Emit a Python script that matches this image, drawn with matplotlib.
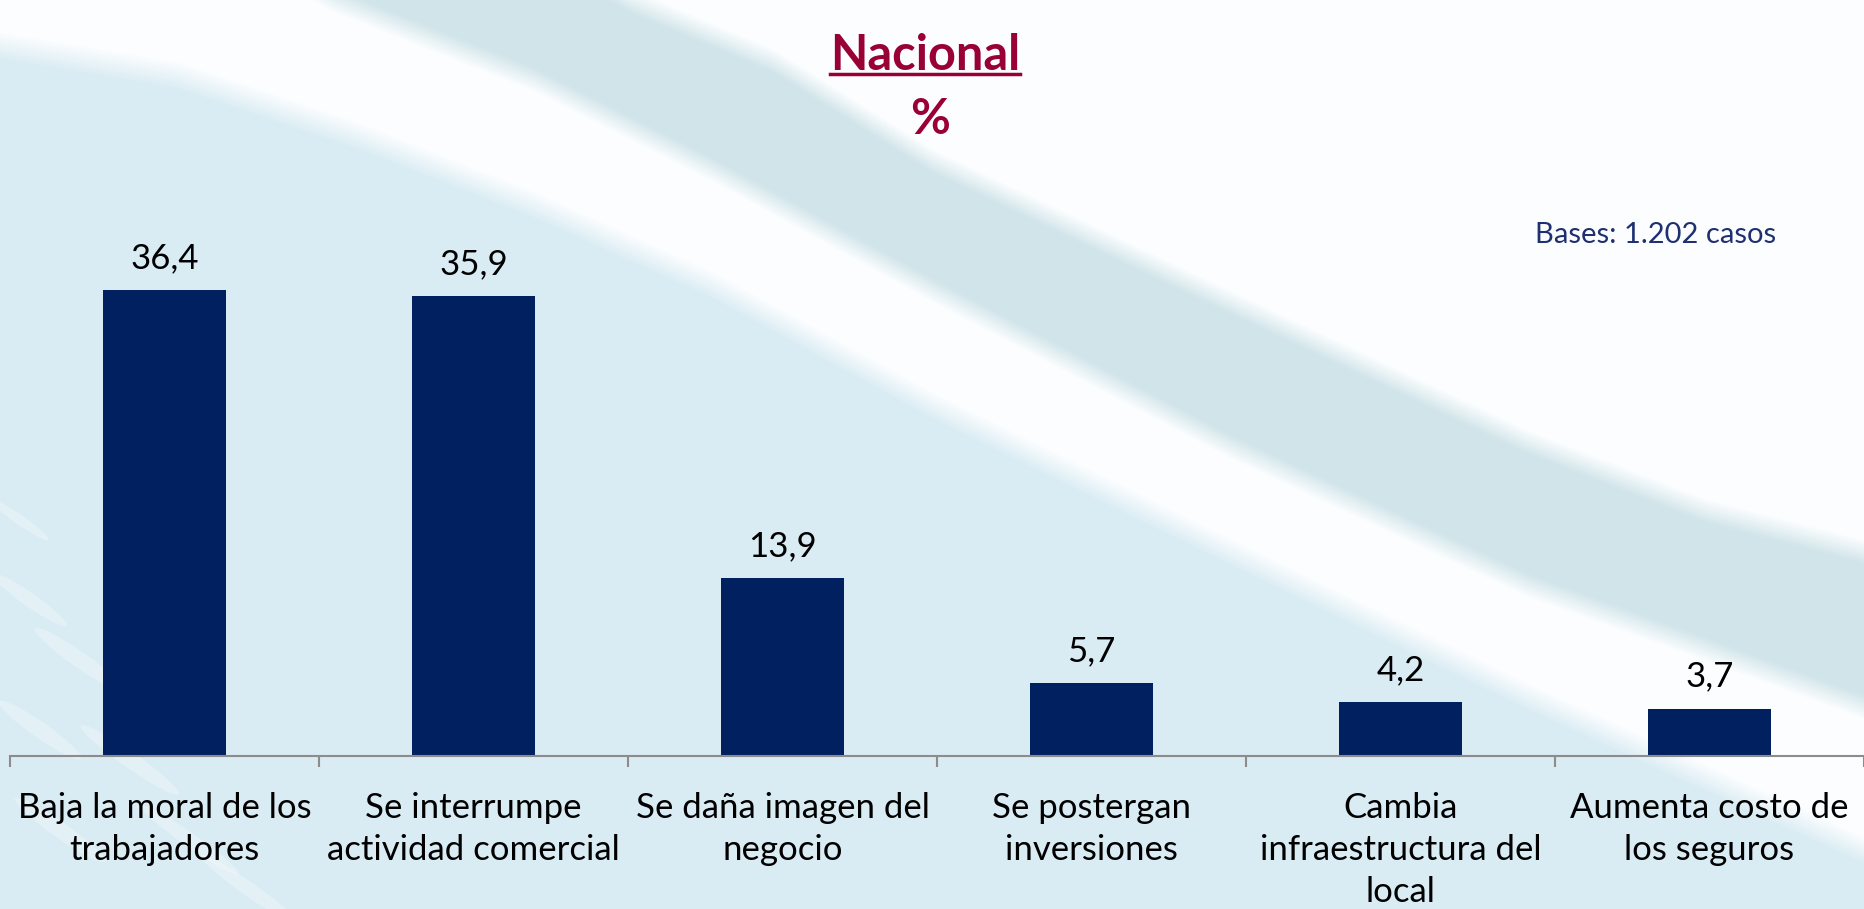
import numpy as np
import matplotlib.pyplot as plt
from matplotlib.lines import Line2D
from matplotlib.patches import Ellipse

# Datos
categorias = ['Baja la moral de los\ntrabajadores',
              'Se interrumpe\nactividad comercial',
              'Se daña imagen del\nnegocio',
              'Se postergan\ninversiones',
              'Cambia\ninfraestructura del\nlocal',
              'Aumenta costo de\nlos seguros']
valores = [36.4, 35.9, 13.9, 5.7, 4.2, 3.7]
titulo = 'Nacional'
subtitulo = '%'
nota_base = 'Bases: 1.202 casos'

W, H = 1864, 909
plt.rcParams['font.family'] = ['Lato', 'DejaVu Sans']

fig = plt.figure(figsize=(W / 100, H / 100), dpi=100)

# Fondo decorativo: zona celeste abajo a la izquierda y una franja gris-azulada curva
xs = np.arange(W, dtype=float)
ys = np.arange(H, dtype=float)[:, None]

borde_celeste = np.interp(xs, [0, 178, 357, 535, 713, 932, 1229, 1527, 1864],
                          [45, 75, 135, 205, 285, 405, 551, 696, 850])
franja_sup = np.interp(xs, [450, 630, 773, 932, 1229, 1527, 1705, 1864],
                       [-100, 0, 60, 160, 301, 441, 510, 551])
franja_inf = np.interp(xs, [150, 333, 535, 713, 932, 1229, 1527, 1705, 1864],
                       [-100, 0, 80, 170, 290, 446, 585, 649, 707])


def suave(borde, ancho):
    return np.clip((ys - borde) / ancho + 0.5, 0, 1)


celeste = suave(borde_celeste, 30)[..., None]
gris = (suave(franja_sup, 25) * (1 - suave(franja_inf, 25)))[..., None]

blanco = np.array([0.992, 0.996, 1.0])
c_celeste = np.array([0.851, 0.925, 0.953])
c_gris = np.array([0.820, 0.898, 0.918])

img = blanco * (1 - celeste) + c_celeste * celeste
img = img * (1 - gris) + c_gris * gris

ax_bg = fig.add_axes([0, 0, 1, 1])
ax_bg.imshow(img, extent=[0, W, H, 0], aspect='auto', interpolation='bilinear')
ax_bg.set_xlim(0, W)
ax_bg.set_ylim(H, 0)
ax_bg.set_axis_off()

# trazos claros y cortos en la esquina inferior izquierda
for cx, cy, largo, ancho in [(30, 600, 90, 14), (80, 660, 110, 16), (40, 730, 100, 16),
                             (130, 760, 120, 16), (60, 830, 110, 16), (190, 840, 120, 14),
                             (150, 690, 80, 10), (250, 890, 120, 14), (20, 520, 70, 10)]:
    ax_bg.add_patch(Ellipse((cx, cy), largo, ancho, angle=35, color='white',
                            alpha=0.28, lw=0))

# Gráfico de barras
eje_y = 756
ax = fig.add_axes([10 / W, (H - eje_y) / H, (W - 10) / W, 640 / H])
ax.patch.set_alpha(0)
x = np.arange(len(valores))
ax.bar(x, valores, width=0.4, color='#002060')
ax.set_xlim(-0.5, len(valores) - 0.5)
ax.set_ylim(0, 50)

for s in ['top', 'right', 'left']:
    ax.spines[s].set_visible(False)
ax.spines['bottom'].set_color('#8c8c8c')
ax.spines['bottom'].set_linewidth(1.5)
ax.set_yticks([])

ax.set_xticks(x)
ax.set_xticklabels(categorias, fontsize=25, color='black', linespacing=1.38)
ax.tick_params(axis='x', which='major', length=0, pad=26)
ax.set_xticks(np.arange(-0.5, len(valores), 1), minor=True)
ax.tick_params(axis='x', which='minor', length=8, width=1.5, color='#8c8c8c')

for i, v in enumerate(valores):
    ax.annotate(f'{v:.1f}'.replace('.', ','), (i, v), xytext=(0, 16),
                textcoords='offset points', ha='center', va='baseline',
                fontsize=25, color='black')

# Título subrayado
color_titulo = '#990033'
t = fig.text(925 / W, 1 - 55 / H, titulo, ha='center', va='center',
             fontsize=35, fontweight='bold', color=color_titulo)
fig.text(930 / W, 1 - 120 / H, subtitulo, ha='center', va='center',
         fontsize=35, fontweight='bold', color=color_titulo)
fig.canvas.draw()
bb = t.get_window_extent()
y_sub = (H - 74) / H
fig.add_artist(Line2D([bb.x0 / W, bb.x1 / W], [y_sub, y_sub],
                      color=color_titulo, lw=2.5))

fig.text(1535 / W, 1 - 235 / H, nota_base, ha='left', va='center',
         fontsize=21, color='#1f3070')

fig.savefig('out.png', dpi=100)
